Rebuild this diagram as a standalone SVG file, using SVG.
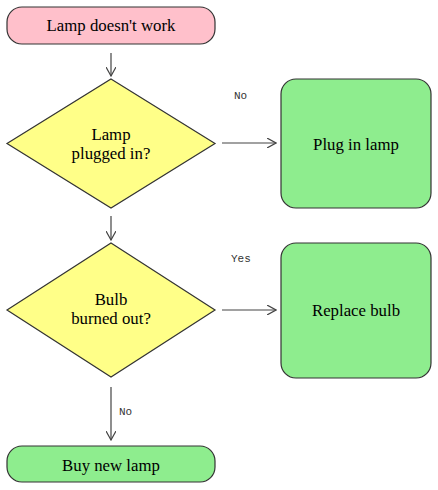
<svg xmlns="http://www.w3.org/2000/svg" width="438" height="490" viewBox="0 0 438 490">
<defs>
<style>
.shape{stroke:#333;stroke-width:1.2}
.t{font-size:16.8px;fill:#000;text-anchor:middle}
.lbl{font-size:11px;fill:#333}
.edge{stroke:#444;stroke-width:1.2;fill:none;marker-end:url(#arr)}
</style>
<marker id="arr" viewBox="0 0 10 10" refX="9" refY="5" markerWidth="10" markerHeight="10" markerUnits="userSpaceOnUse" orient="auto">
<path d="M0,0 L9,5 L0,10" fill="none" stroke="#444" stroke-width="1.2"/>
</marker>
</defs>
<rect width="438" height="490" fill="#fff"/>
<g id="connectors" font-family="'Liberation Mono', 'Courier New', monospace">
<line class="edge" x1="111" y1="53" x2="111" y2="76"/>
<line class="edge" x1="222" y1="143" x2="276" y2="143"/>
<line class="edge" x1="111" y1="216" x2="111" y2="240"/>
<line class="edge" x1="222" y1="310" x2="276" y2="310"/>
<line class="edge" x1="111" y1="387" x2="111" y2="440"/>
<text class="lbl" x="234" y="99">No</text>
<text class="lbl" x="231" y="262">Yes</text>
<text class="lbl" x="119" y="415">No</text>
</g>
<g id="nodes" font-family="'Liberation Serif', 'Times New Roman', serif">
<g id="start">
<rect class="shape" x="7" y="7" width="208" height="37" rx="15" fill="#ffc0cb"/>
<text class="t" x="111" y="31">Lamp doesn't work</text>
</g>
<g id="q1">
<polygon class="shape" points="111,79 215,143.5 111,208 7,143.5" fill="#ffff88"/>
<text class="t" x="111" y="140">Lamp</text>
<text class="t" x="111" y="159">plugged in?</text>
</g>
<g id="plug">
<rect class="shape" x="281" y="79" width="150" height="129" rx="15" fill="#8eed8e"/>
<text class="t" x="356" y="150">Plug in lamp</text>
</g>
<g id="q2">
<polygon class="shape" points="111,243 215,310 111,377 7,310" fill="#ffff88"/>
<text class="t" x="111" y="305">Bulb</text>
<text class="t" x="111" y="324">burned out?</text>
</g>
<g id="replace">
<rect class="shape" x="281" y="243" width="150" height="135" rx="15" fill="#8eed8e"/>
<text class="t" x="356" y="316">Replace bulb</text>
</g>
<g id="buy">
<rect class="shape" x="7" y="446" width="208" height="36" rx="15" fill="#8eed8e"/>
<text class="t" x="111" y="471">Buy new lamp</text>
</g>
</g>
</svg>
